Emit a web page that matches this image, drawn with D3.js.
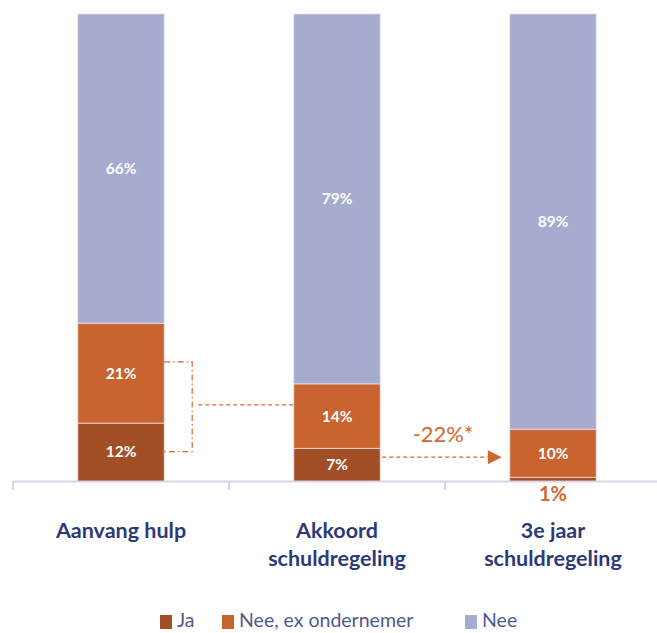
<!DOCTYPE html>
<html><head><meta charset="utf-8">
<script src="https://cdn.jsdelivr.net/npm/d3@7"></script>
<style>body{margin:0;background:#fff}svg{display:block}text{font-family:Lato,"Open Sans",sans-serif}</style>
</head><body>
<svg id="c" width="657" height="633"></svg>
<script>
const categories = [["Aanvang hulp"], ["Akkoord", "schuldregeling"], ["3e jaar", "schuldregeling"]];
const seriesNames = ["Ja", "Nee, ex ondernemer", "Nee"];
const ja = [12.4, 7.0, 0.8];
const neeEx = [21.4, 13.8, 10.3];
const nee = [66.2, 79.2, 88.9];
const colors = ["#a24f26", "#c96330", "#a6abd0"];
const changeLabel = "-22%*";
const bracketValues = [25.5, 6.3];   // top/bottom of bracket on bar 1
const linkValue = 16.3;               // dashed link to bar 2
const arrowValue = 5.1;               // arrow from bar 2 to bar 3

const svg = d3.select("#c");
const x = d3.scaleBand().domain(d3.range(categories.length)).range([13, 661]).paddingInner(0.6).paddingOuter(0.3);
const y = d3.scaleLinear().domain([0, 100]).range([481, 14]);

const rows = categories.map((c, i) => ({i, Ja: ja[i], NeeEx: neeEx[i], Nee: nee[i]}));
const stack = d3.stack().keys(["Ja", "NeeEx", "Nee"])(rows);

// axis
const band = 648 / 3;
svg.append("line").attr("x1", 13).attr("x2", 657).attr("y1", 481.5).attr("y2", 481.5)
  .attr("stroke", "#d3d6ee").attr("stroke-width", 2);
[0, 1, 2].forEach(k => {
  const xx = 13 + k * band;
  svg.append("line").attr("x1", xx).attr("x2", xx).attr("y1", 481).attr("y2", 490)
    .attr("stroke", "#d3d6ee").attr("stroke-width", 2);
});

const g = svg.append("g");
stack.forEach((layer, li) => {
  g.selectAll(null).data(layer).enter().append("rect")
    .attr("x", d => x(d.data.i))
    .attr("width", x.bandwidth())
    .attr("y", d => y(d[1]))
    .attr("height", d => y(d[0]) - y(d[1]))
    .attr("fill", colors[li])
    .attr("stroke", "#ecdfe3").attr("stroke-width", 0.8);
  g.selectAll(null).data(layer.filter(d => d[1] - d[0] > 3)).enter().append("text")
    .attr("x", d => x(d.data.i) + x.bandwidth() / 2)
    .attr("y", d => (y(d[0]) + y(d[1])) / 2)
    .attr("dy", "0.35em").attr("text-anchor", "middle")
    .attr("fill", "#fff").attr("font-weight", 700).attr("font-size", 15.5)
    .text(d => Math.round(d[1] - d[0]) + "%");
});

// small Ja label below bar 3
svg.append("text").attr("x", x(2) + x.bandwidth() / 2).attr("y", 494).attr("dy", "0.35em")
  .attr("text-anchor", "middle").attr("fill", "#d0692f").attr("font-weight", 700).attr("font-size", 20)
  .text(Math.round(ja[2]) + "%");

// category labels
categories.forEach((lines, i) => {
  const t = svg.append("text").attr("x", x(i) + x.bandwidth() / 2).attr("y", 538)
    .attr("text-anchor", "middle").attr("fill", "#2d3a78").attr("font-weight", 700).attr("font-size", 21.5);
  lines.forEach((l, j) => t.append("tspan").attr("x", x(i) + x.bandwidth() / 2).attr("dy", j ? 28 : 0).text(l));
});

// annotations
const ann = "#d0692f";
const r1 = x(0) + x.bandwidth();
const bx = r1 + 28;
svg.append("path")
  .attr("d", `M${r1},${y(bracketValues[0])}H${bx}V${y(bracketValues[1])}H${r1}`)
  .attr("fill", "none").attr("stroke", ann).attr("stroke-width", 1.2).attr("stroke-dasharray", "6,3,1.5,3");
svg.append("line").attr("x1", bx + 6).attr("x2", x(1)).attr("y1", y(linkValue)).attr("y2", y(linkValue))
  .attr("stroke", ann).attr("stroke-width", 1.2).attr("stroke-dasharray", "4,3");
const r2 = x(1) + x.bandwidth();
svg.append("line").attr("x1", r2 + 2).attr("x2", x(2) - 22).attr("y1", y(arrowValue)).attr("y2", y(arrowValue))
  .attr("stroke", ann).attr("stroke-width", 1.2).attr("stroke-dasharray", "4,3");
svg.append("path")
  .attr("d", `M${x(2) - 22},${y(arrowValue) - 7}L${x(2) - 8},${y(arrowValue)}L${x(2) - 22},${y(arrowValue) + 7}Z`)
  .attr("fill", ann);
svg.append("text").attr("x", (r2 + x(2)) / 2 - 2).attr("y", 434).attr("dy", "0.35em")
  .attr("text-anchor", "middle").attr("fill", ann).attr("font-size", 22).text(changeLabel);

// legend
const legX = [160, 222, 465];
seriesNames.forEach((n, i) => {
  svg.append("rect").attr("x", legX[i]).attr("y", 615).attr("width", 12).attr("height", 14).attr("fill", colors[i]);
  svg.append("text").attr("x", legX[i] + 17).attr("y", 627).attr("fill", "#4f5a8c")
    .attr("font-size", 19.5).text(n);
});
</script>
</body></html>
